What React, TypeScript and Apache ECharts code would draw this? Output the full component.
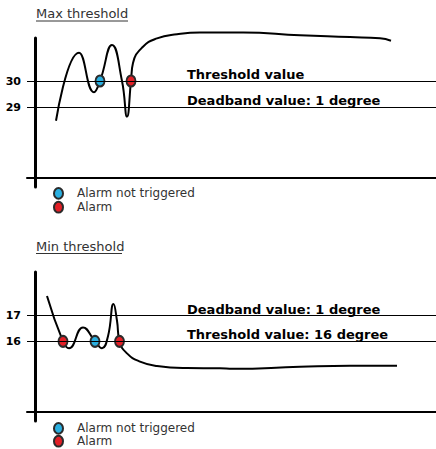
import React, { useEffect, useRef } from "react";
import * as echarts from "echarts";

// ---- Data ----
// x: time units, y: temperature (degrees)
const maxCurve: [number, number][] = [
  [21, 28.47], [44, 31.09], [59, 29.57], [65, 30.0], [77, 31.38], [87, 30.0],
  [92, 28.63], [96, 30.0], [98, 30.69], [108, 31.32], [122, 31.64], [142, 31.8],
  [165, 31.87], [208, 31.87], [265, 31.76], [315, 31.69], [345, 31.64], [356, 31.55],
];
const maxNotTriggered: [number, number][] = [[65, 30]];
const maxAlarm: [number, number][] = [[96, 30]];
const maxThreshold = 30;
const maxDeadband = 29;

const minCurve: [number, number][] = [
  [12, 17.76], [28, 16.0], [34, 15.73], [48, 16.54], [60, 16.0], [67, 15.73],
  [73, 16.2], [78.5, 17.45], [82, 16.8], [84.5, 16.0], [92, 15.53], [105, 15.21],
  [122, 15.04], [152, 14.96], [185, 14.95], [198, 14.93], [265, 15.01], [315, 15.05], [362, 15.05],
];
const minNotTriggered: [number, number][] = [[60, 16]];
const minAlarm: [number, number][] = [[28, 16], [84.5, 16]];
const minThreshold = 16;
const minDeadband = 17;

const titles = ["Max threshold", "Min threshold"];
const legendNames = ["Alarm not triggered", "Alarm"];
const maxLineLabels = ["Threshold value", "Deadband value: 1 degree"];
const minLineLabels = ["Deadband value: 1 degree", "Threshold value: 16 degree"];

const FONT = "DejaVu Sans";
const BLUE = "#2aafe0";
const RED = "#e21f26";
const BORDER = "#2b2b2b";
const ELLIPSE = "path://M5,0 A5,6 0 1,1 5,12 A5,6 0 1,1 5,0 Z";

function lineLabel(text: string) {
  return {
    show: true,
    position: "insideStartTop",
    distance: [160, 0],
    formatter: text,
    fontFamily: FONT,
    fontWeight: "bold",
    fontSize: 13,
    color: "#000",
  };
}

export default function App() {
  const ref = useRef<HTMLDivElement>(null);
  useEffect(() => {
    document.body.style.margin = "0";
    const chart = echarts.init(ref.current!, null, { renderer: "svg" });

    const grids = [
      { left: 27, right: 0, top: 38, height: 149 },
      { left: 27, right: 0, top: 272, height: 149 },
    ];
    const xAxisBase = {
      type: "value",
      min: -8,
      max: 401,
      offset: -9,
      axisLine: { show: true, onZero: false, lineStyle: { color: "#000", width: 2 } },
      axisTick: { show: false },
      axisLabel: { show: false },
      splitLine: { show: false },
    };
    const yAxisBase = (min: number, max: number, vals: number[]) => ({
      type: "value",
      min,
      max,
      axisLine: { show: true, onZero: true, lineStyle: { color: "#000", width: 3 } },
      axisTick: { show: false },
      splitLine: { show: false },
      axisLabel: {
        show: true,
        customValues: vals,
        margin: 6,
        fontFamily: FONT,
        fontWeight: "bold",
        fontSize: 11,
        color: "#000",
      },
    });

    const markLineBase = {
      silent: true,
      symbol: ["none", "none"],
      lineStyle: { color: "#000", width: 1, type: "solid" },
      emphasis: { disabled: true },
    };

    const lineSeries = (data: [number, number][], idx: number, ml: any[]) => ({
      type: "line",
      xAxisIndex: idx,
      yAxisIndex: idx,
      data,
      smooth: 0.5,
      showSymbol: false,
      clip: false,
      silent: true,
      z: 2,
      lineStyle: { color: "#000", width: 2 },
      markLine: { ...markLineBase, data: ml },
    });
    const scatterSeries = (name: string, data: [number, number][], idx: number, color: string) => ({
      type: "scatter",
      name,
      xAxisIndex: idx,
      yAxisIndex: idx,
      data,
      symbol: ELLIPSE,
      symbolSize: [9, 11],
      z: 3,
      silent: true,
      itemStyle: { color, borderColor: BORDER, borderWidth: 2, opacity: 1 },
    });

    const legendBase = (top: number, gap: number) => ({
      orient: "vertical",
      left: 53,
      top,
      padding: 0,
      itemGap: gap,
      itemWidth: 9,
      itemHeight: 11,
      icon: ELLIPSE,
      selectedMode: false,
      data: legendNames,
      itemStyle: { borderColor: BORDER, borderWidth: 2 },
      textStyle: { fontFamily: FONT, fontSize: 12, color: "#333", padding: [0, 0, 0, 9] },
    });

    const titleBase = (text: string, top: number) => ({
      text,
      left: 36,
      top,
      padding: 0,
      textStyle: { fontFamily: FONT, fontSize: 13, fontWeight: "normal", color: "#333" },
    });

    chart.setOption({
      animation: false,
      title: [titleBase(titles[0], 7), titleBase(titles[1], 240)],
      legend: [legendBase(187, 1), legendBase(422, 0)],
      grid: grids.map((g) => ({ ...g, outerBoundsMode: "none" })),
      xAxis: [{ ...xAxisBase, gridIndex: 0 }, { ...xAxisBase, gridIndex: 1 }],
      yAxis: [
        { ...yAxisBase(25.923, 31.654, [maxDeadband, maxThreshold]), gridIndex: 0 },
        { ...yAxisBase(12.899, 18.697, [minThreshold, minDeadband]), gridIndex: 1 },
      ],
      graphic: [
        { type: "line", shape: { x1: 36, y1: 21, x2: 128, y2: 21 }, style: { stroke: "#333", lineWidth: 1 } },
        { type: "line", shape: { x1: 36, y1: 253.5, x2: 122, y2: 253.5 }, style: { stroke: "#333", lineWidth: 1 } },
      ],
      series: [
        lineSeries(maxCurve, 0, [
          { yAxis: maxThreshold, label: lineLabel(maxLineLabels[0]) },
          { yAxis: maxDeadband, label: lineLabel(maxLineLabels[1]) },
        ]),
        scatterSeries(legendNames[0], maxNotTriggered, 0, BLUE),
        scatterSeries(legendNames[1], maxAlarm, 0, RED),
        lineSeries(minCurve, 1, [
          { yAxis: minDeadband, label: lineLabel(minLineLabels[0]) },
          { yAxis: minThreshold, label: lineLabel(minLineLabels[1]) },
        ]),
        scatterSeries(legendNames[0], minNotTriggered, 1, BLUE),
        scatterSeries(legendNames[1], minAlarm, 1, RED),
      ],
    });
    return () => chart.dispose();
  }, []);
  return <div ref={ref} style={{ width: 436, height: 449 }} />;
}
